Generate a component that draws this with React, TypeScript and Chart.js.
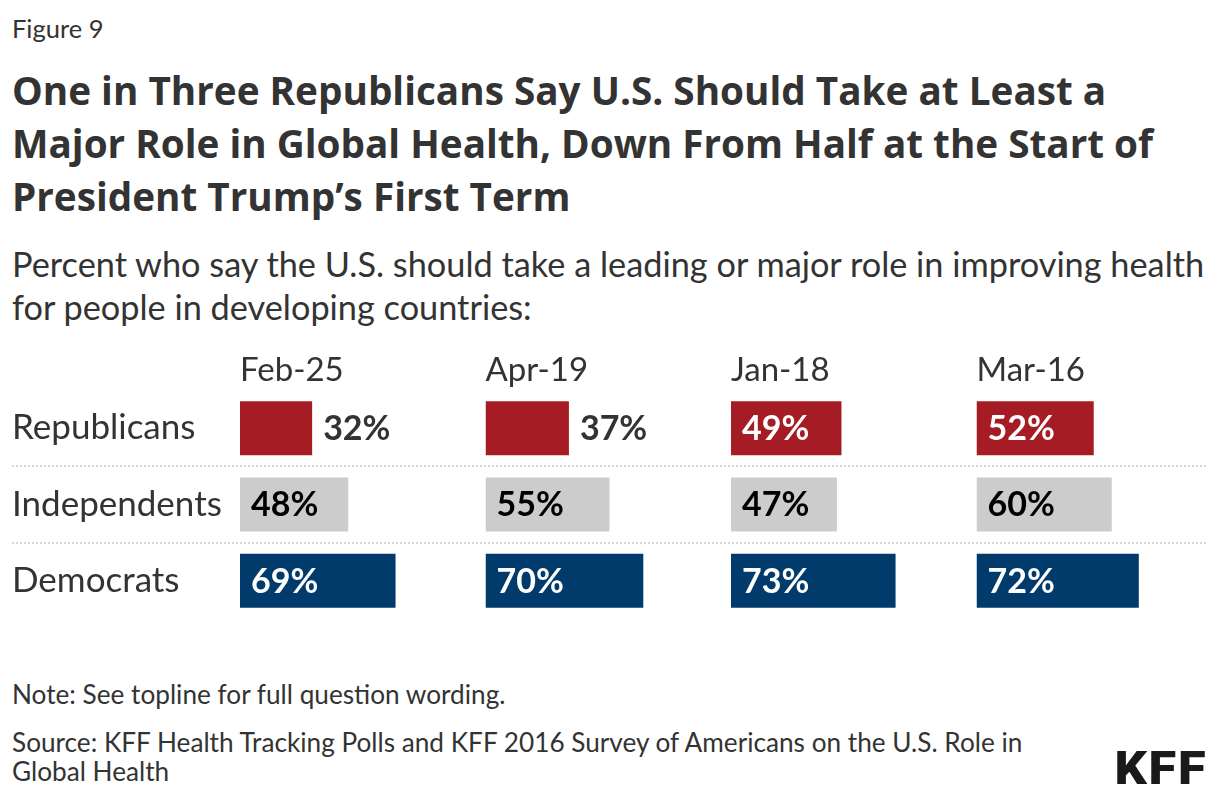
import React, { useEffect, useRef } from "react";
import { Chart, registerables } from "chart.js";

Chart.register(...registerables);

// ---- data ----
const categories = ["Republicans", "Independents", "Democrats"];
const periods = ["Feb-25", "Apr-19", "Jan-18", "Mar-16"];
const feb25 = [32, 48, 69];
const apr19 = [37, 55, 70];
const jan18 = [49, 47, 73];
const mar16 = [52, 60, 72];
const seriesValues = [feb25, apr19, jan18, mar16];

const rowColors = ["#a51c24", "#cccccc", "#003b6c"];
const insideLabelColors = ["#ffffff", "#000000", "#ffffff"];
const outsideLabelColor = "#333333";
const FONT = "Lato, 'Source Sans Pro', 'Noto Sans', sans-serif";
const TITLE_FONT = "'Open Sans', Roboto, Lato, sans-serif";

const separatorPlugin = {
  id: "separators",
  beforeDatasetsDraw(chart: any) {
    const ys = chart.scales.y;
    const ctx = chart.ctx;
    ctx.save();
    ctx.strokeStyle = "#d6d6d6";
    ctx.lineWidth = 2;
    ctx.setLineDash([2, 2]);
    for (let i = 0; i < categories.length - 1; i++) {
      const yy = Math.round((ys.getPixelForValue(i) + ys.getPixelForValue(i + 1)) / 2);
      ctx.beginPath();
      ctx.moveTo(ys.left, yy);
      ctx.lineTo(chart.chartArea.right - 15, yy);
      ctx.stroke();
    }
    ctx.restore();
  },
};

const valueLabelPlugin = {
  id: "valueLabels",
  afterDatasetsDraw(chart: any) {
    const ctx = chart.ctx;
    ctx.save();
    ctx.font = `bold 34px ${FONT}`;
    ctx.textBaseline = "middle";
    ctx.textAlign = "left";
    chart.data.datasets.forEach((ds: any, di: number) => {
      const meta = chart.getDatasetMeta(di);
      meta.data.forEach((bar: any, i: number) => {
        const v = ds.data[i];
        const { x, y, base } = bar.getProps(["x", "y", "base"], true);
        const text = `${v}%`;
        const inside = v >= 40;
        if (inside) {
          ctx.fillStyle = insideLabelColors[i];
          ctx.fillText(text, base + 11, y + 1);
        } else {
          ctx.fillStyle = outsideLabelColor;
          ctx.fillText(text, x + 11, y + 1);
        }
      });
    });
    ctx.restore();
  },
};

function BarPanels() {
  const ref = useRef<HTMLCanvasElement | null>(null);
  useEffect(() => {
    if (!ref.current) return;
    const scales: any = {
      y: {
        type: "category",
        position: "left",
        grid: { display: false },
        border: { display: false },
        ticks: {
          crossAlign: "far",
          color: "#333333",
          font: { family: FONT, size: 35 },
          padding: 0,
        },
        afterFit(scale: any) {
          scale.width = 228;
          scale.paddingTop = 0;
          scale.paddingBottom = 0;
        },
      },
    };
    // top-positioned stacked axes are laid out in reverse creation order
    for (let k = periods.length - 1; k >= 0; k--) {
      scales[`x${k}`] = {
        type: "linear",
        position: "top",
        stack: "cols",
        stackWeight: 1,
        min: 0,
        max: 108.9,
        grid: { display: false, drawTicks: false },
        border: { display: false },
        ticks: { display: false },
        title: {
          display: true,
          text: periods[k],
          align: "start",
          color: "#333333",
          font: { family: FONT, size: 33 },
          padding: { top: 11, bottom: 0 },
        },
        afterFit(scale: any) {
          scale.height = 50;
        },
      };
    }
    const chart = new Chart(ref.current, {
      type: "bar",
      data: {
        labels: categories,
        datasets: seriesValues.map((vals, k) => ({
          label: periods[k],
          data: vals,
          xAxisID: `x${k}`,
          yAxisID: "y",
          grouped: false,
          backgroundColor: rowColors,
          borderWidth: 0,
          categoryPercentage: 1,
          barPercentage: 0.707,
        })),
      },
      options: {
        indexAxis: "y",
        responsive: false,
        animation: false,
        layout: { padding: { left: 4, right: 16, top: 0, bottom: 0 } },
        plugins: {
          legend: { display: false },
          tooltip: { enabled: false },
          title: { display: false },
        },
        scales,
      } as any,
      plugins: [separatorPlugin, valueLabelPlugin],
    });
    return () => chart.destroy();
  }, []);
  return (
    <canvas
      ref={ref}
      width={1230}
      height={279}
      style={{ position: "absolute", left: 0, top: 332, width: 1230, height: 279 }}
    />
  );
}

export default function App() {
  const base: React.CSSProperties = {
    position: "absolute",
    left: 4,
    whiteSpace: "nowrap",
    fontFamily: FONT,
    color: "#333333",
    margin: 0,
  };
  return (
    <div style={{ position: "relative", height: 786, overflow: "hidden" }}>
      <div style={{ ...base, top: 5, fontSize: 25.5, lineHeight: "30px" }}>Figure 9</div>
      <div
        style={{
          ...base,
          top: 56,
          fontFamily: TITLE_FONT,
          fontSize: 38.7,
          lineHeight: "53px",
          fontWeight: 700,
        }}
      >
        One in Three Republicans Say U.S. Should Take at Least a
        <br />
        Major Role in Global Health, Down From Half at the Start of
        <br />
        President Trump’s First Term
      </div>
      <div style={{ ...base, top: 234, fontSize: 34.3, lineHeight: "43px" }}>
        Percent who say the U.S. should take a leading or major role in improving health
        <br />
        for people in developing countries:
      </div>
      <BarPanels />
      <div style={{ ...base, top: 671, fontSize: 26.2, lineHeight: "30px" }}>
        Note: See topline for full question wording.
      </div>
      <div style={{ ...base, top: 719.5, fontSize: 26.2, lineHeight: "29px" }}>
        Source: KFF Health Tracking Polls and KFF 2016 Survey of Americans on the U.S. Role in
        <br />
        Global Health
      </div>
      <div
        style={{
          position: "absolute",
          right: 5,
          top: 735,
          fontFamily: "Roboto, sans-serif",
          fontWeight: 900,
          fontSize: 46,
          lineHeight: "50px",
          letterSpacing: 1.5,
          transform: "scaleX(1.1)",
          transformOrigin: "right center",
          color: "#1a1a1a",
        }}
      >
        KFF
      </div>
    </div>
  );
}
